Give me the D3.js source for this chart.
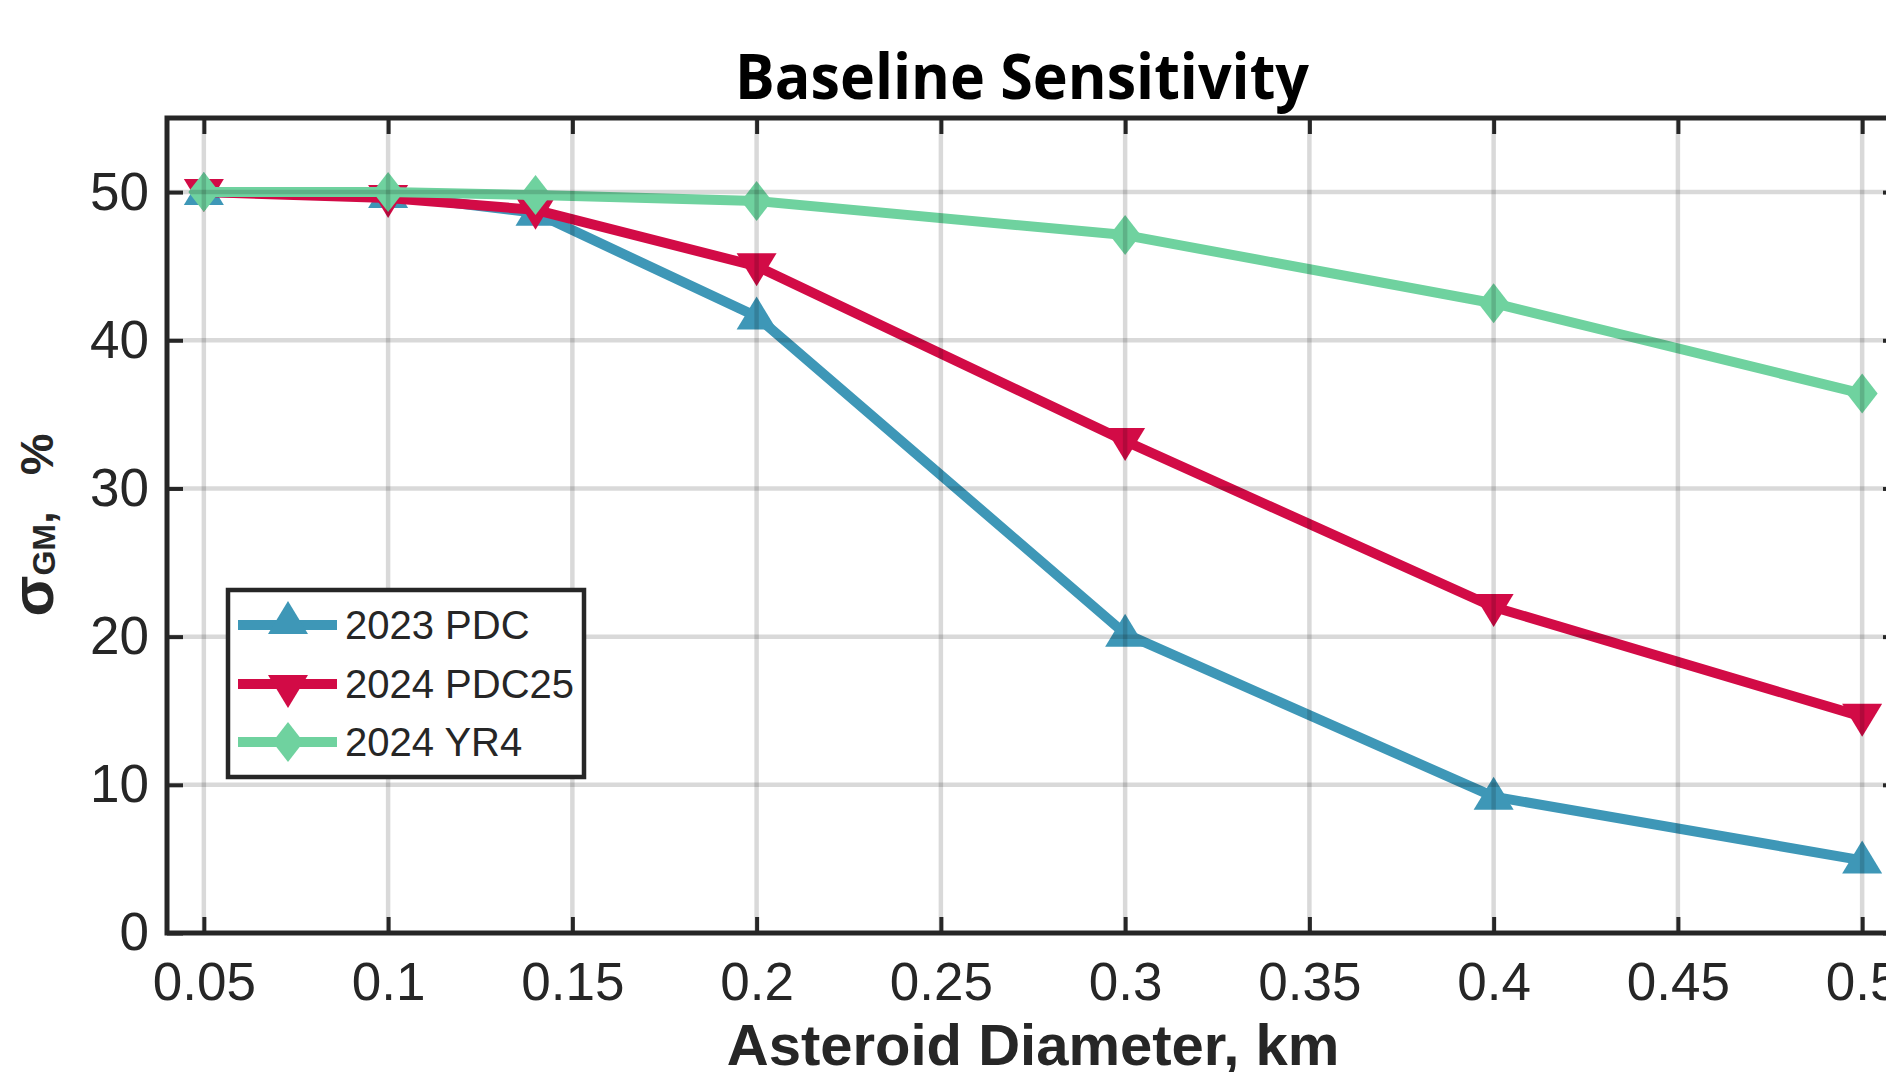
<!DOCTYPE html>
<html>
<head>
<meta charset="utf-8">
<script src="https://cdn.jsdelivr.net/npm/d3@7"></script>
<style>
  html, body { margin: 0; padding: 0; background: #fff; overflow: hidden; }
  svg { display: block; }
</style>
</head>
<body>
<svg id="chart" width="1886" height="1072"></svg>
<script>
// ---- data ----
const diameters = [0.05, 0.1, 0.14, 0.2, 0.3, 0.4, 0.5];
const pdc2023   = [50, 49.8, 48.6, 41.6, 20.2, 9.2, 4.9];
const pdc2025   = [50, 49.6, 48.8, 45.0, 33.2, 22.0, 14.6];
const yr4       = [50, 50.0, 49.8, 49.4, 47.1, 42.5, 36.4];
const seriesNames = ["2023 PDC", "2024 PDC25", "2024 YR4"];
const xTicks = [0.05, 0.1, 0.15, 0.2, 0.25, 0.3, 0.35, 0.4, 0.45, 0.5];
const xTickLabels = ["0.05", "0.1", "0.15", "0.2", "0.25", "0.3", "0.35", "0.4", "0.45", "0.5"];
const yTicks = [0, 10, 20, 30, 40, 50];
const yTickLabels = ["0", "10", "20", "30", "40", "50"];

// ---- layout ----
const plotLeft = 167, plotRight = 1899, plotTop = 118, plotBottom = 933;
const axisColor = "#262626";
const colors = ["#3e97b7", "#d20b46", "#6fd29f"];
const markers = ["up", "down", "diamond"];

const svg = d3.select("#chart");
const x = d3.scaleLinear().domain([0.04, 0.51]).range([plotLeft, plotRight]);
const y = d3.scaleLinear().domain([0, 55]).range([plotBottom, plotTop]);

function markerPath(type) {
  if (type === "up") return "M0,-20 L20,13 L-20,13 Z";
  if (type === "down") return "M0,20 L20,-13 L-20,-13 Z";
  return "M0,-20 L15.5,0 L0,20 L-15.5,0 Z";
}

// ---- series ----
const allSeries = [pdc2023, pdc2025, yr4];
const line = d3.line().x(d => x(d[0])).y(d => y(d[1]));
allSeries.forEach((vals, i) => {
  const pts = diameters.map((d, j) => [d, vals[j]]);
  const g = svg.append("g");
  g.append("path").datum(pts)
    .attr("d", line)
    .attr("fill", "none")
    .attr("stroke", colors[i])
    .attr("stroke-width", 10)
    .attr("stroke-linejoin", "round");
  g.selectAll("path.m").data(pts).enter().append("path")
    .attr("class", "m")
    .attr("d", markerPath(markers[i]))
    .attr("transform", d => `translate(${x(d[0])},${y(d[1])})`)
    .attr("fill", colors[i]);
});

// ---- grid (drawn on top, translucent) ----
const grid = svg.append("g");
grid.selectAll("line.vx").data(xTicks).enter().append("line")
  .attr("x1", d => x(d)).attr("x2", d => x(d))
  .attr("y1", plotTop).attr("y2", plotBottom)
  .attr("stroke", "#000").attr("stroke-opacity", 0.15).attr("stroke-width", 4.5);
grid.selectAll("line.hy").data(yTicks.filter(v => v > 0)).enter().append("line")
  .attr("x1", plotLeft).attr("x2", plotRight)
  .attr("y1", d => y(d)).attr("y2", d => y(d))
  .attr("stroke", "#000").attr("stroke-opacity", 0.15).attr("stroke-width", 4.5);

// ---- axes ----
const fontTicks = "'Liberation Sans', Arial, sans-serif";
const xAxis = d3.axisBottom(x).tickValues(xTicks)
  .tickFormat((d, i) => xTickLabels[i]).tickSizeInner(-16).tickSizeOuter(0).tickPadding(29);
const gx = svg.append("g").attr("transform", `translate(0,${plotBottom})`).call(xAxis);
const yAxis = d3.axisLeft(y).tickValues(yTicks)
  .tickFormat((d, i) => yTickLabels[i]).tickSizeInner(-16).tickSizeOuter(0).tickPadding(18);
const gy = svg.append("g").attr("transform", `translate(${plotLeft},0)`).call(yAxis);
const xTop = d3.axisTop(x).tickValues(xTicks).tickFormat("").tickSizeInner(-16).tickSizeOuter(0);
const gt = svg.append("g").attr("transform", `translate(0,${plotTop})`).call(xTop);
const yRight = d3.axisRight(y).tickValues(yTicks).tickFormat("").tickSizeInner(-16).tickSizeOuter(0);
const gr = svg.append("g").attr("transform", `translate(${plotRight},0)`).call(yRight);

[gx, gy, gt, gr].forEach(g => {
  g.select(".domain").remove();
  g.selectAll(".tick line").attr("stroke", axisColor).attr("stroke-width", 4);
  g.selectAll(".tick text")
    .attr("fill", axisColor)
    .style("font-family", fontTicks)
    .style("font-size", "53px");
});

// frame
svg.append("rect")
  .attr("x", plotLeft).attr("y", plotTop)
  .attr("width", plotRight - plotLeft).attr("height", plotBottom - plotTop)
  .attr("fill", "none").attr("stroke", axisColor).attr("stroke-width", 5);

// ---- titles ----
svg.append("text")
  .attr("x", 1022).attr("y", 99)
  .attr("text-anchor", "middle")
  .attr("textLength", 574).attr("lengthAdjust", "spacingAndGlyphs")
  .style("font-family", "'Open Sans', 'Noto Sans', sans-serif")
  .style("font-weight", "700")
  .style("font-size", "63px")
  .attr("fill", "#000")
  .text("Baseline Sensitivity");

svg.append("text")
  .attr("x", (plotLeft + plotRight) / 2).attr("y", 1065)
  .attr("text-anchor", "middle")
  .style("font-family", fontTicks)
  .style("font-weight", "700")
  .style("font-size", "58px")
  .attr("fill", axisColor)
  .text("Asteroid Diameter, km");

const yl = svg.append("text")
  .attr("transform", "translate(53,525) rotate(-90)")
  .attr("text-anchor", "middle")
  .style("font-family", fontTicks)
  .style("font-weight", "700")
  .attr("fill", axisColor);
yl.append("tspan").style("font-size", "60px").text("σ");
yl.append("tspan").style("font-size", "32px").attr("dy", 2).text("GM");
yl.append("tspan").style("font-size", "46px").attr("dy", -2).text(",");
yl.append("tspan").style("font-size", "47px").attr("dx", 36).text("%");

// ---- legend ----
const lg = svg.append("g");
lg.append("rect").attr("x", 228).attr("y", 590).attr("width", 356).attr("height", 187)
  .attr("fill", "#fff").attr("stroke", axisColor).attr("stroke-width", 4.5);
const rowY = [625, 684, 742];
seriesNames.forEach((name, i) => {
  lg.append("line").attr("x1", 238).attr("x2", 337)
    .attr("y1", rowY[i]).attr("y2", rowY[i])
    .attr("stroke", colors[i]).attr("stroke-width", 10);
  lg.append("path").attr("d", markerPath(markers[i]))
    .attr("transform", `translate(288,${rowY[i] + (i === 0 ? -4 : i === 1 ? 4 : 0)})`)
    .attr("fill", colors[i]);
  lg.append("text").attr("x", 345).attr("y", rowY[i] + 14)
    .style("font-family", fontTicks).style("font-size", "40px")
    .attr("fill", axisColor).text(name);
});
</script>
</body>
</html>
